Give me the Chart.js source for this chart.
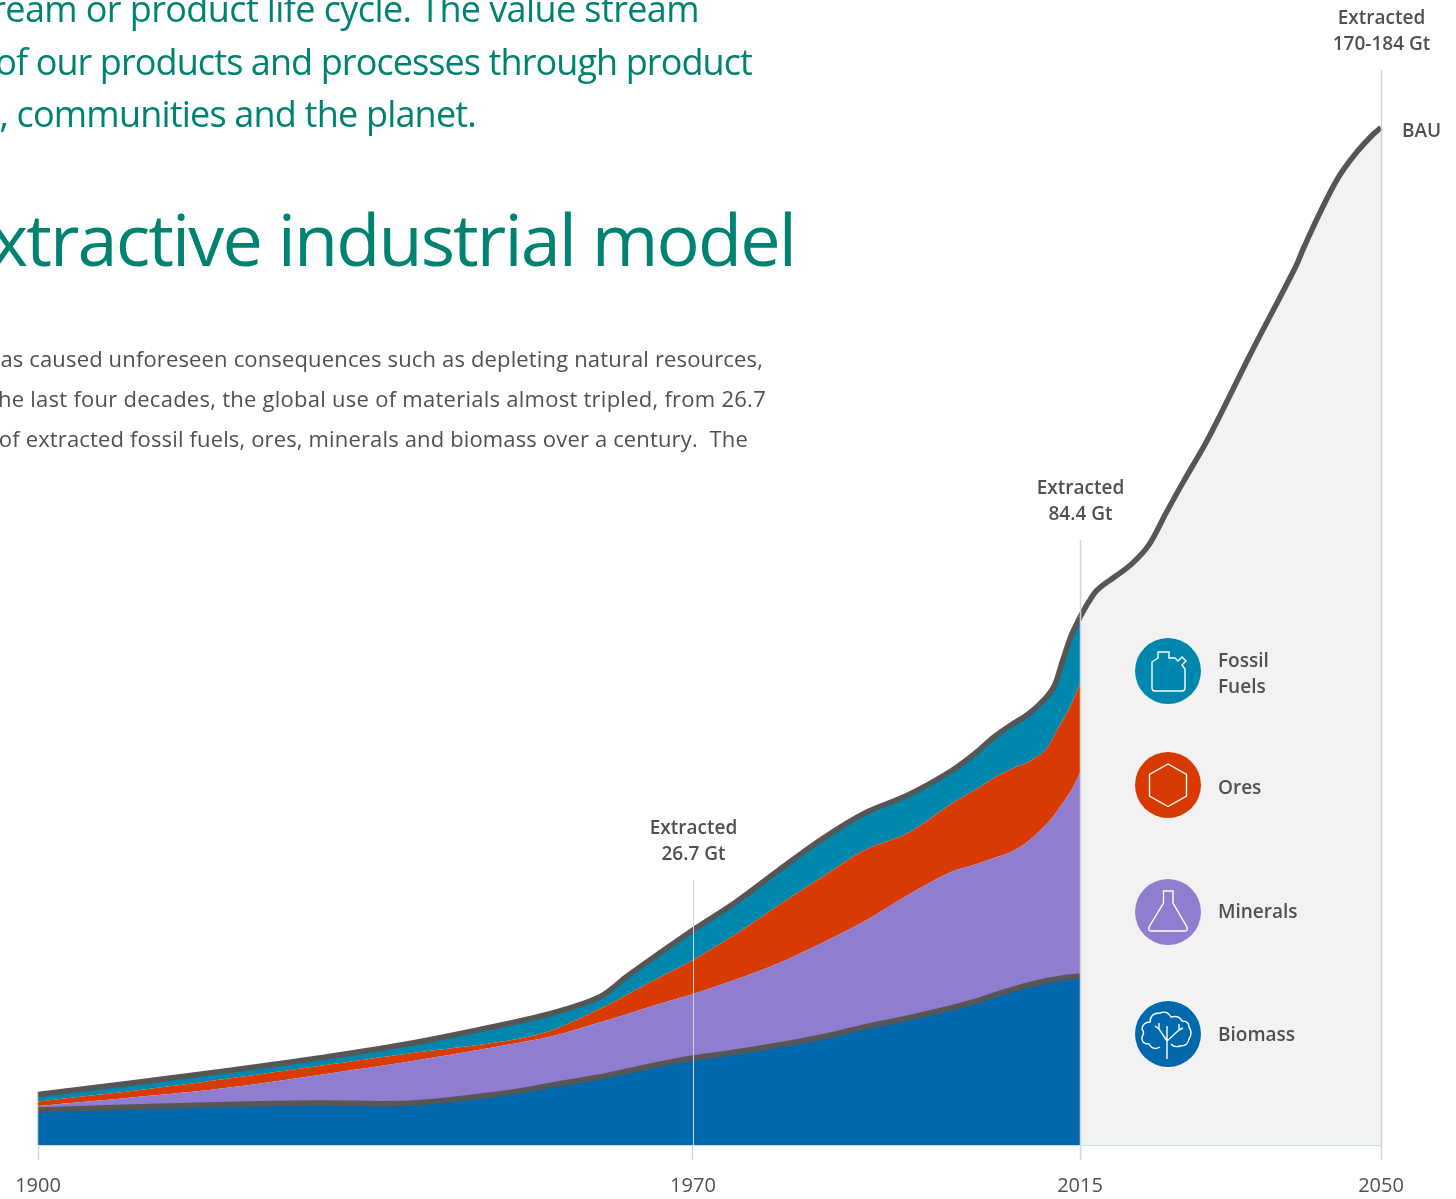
<!DOCTYPE html>
<html>
<head>
<meta charset="utf-8">
<title>Extractive industrial model</title>
<script src="https://cdn.jsdelivr.net/npm/chart.js@4"></script>
<style>
    html, body { margin: 0; padding: 0; background: #fff; }
    #page { position: relative; width: 1456px; height: 1199px; overflow: hidden; font-family: "Open Sans", sans-serif; }
    #page canvas { position: absolute; left: 0; top: 0; }
    .copy { position: absolute; white-space: pre; line-height: 1; text-align: right; }
    .intro { color: #008272; font-size: 36px; letter-spacing: -0.9px; }
    .head { color: #008272; font-size: 72px; letter-spacing: -1.9px; }
    .body { color: #505050; font-size: 22px; letter-spacing: 0.15px; }
</style>
</head>
<body>
<div id="page">
    <canvas id="flowChart" width="1456" height="1199"></canvas>
    <div class="copy intro" style="right:757px;top:-9px;letter-spacing:-0.6px">ream or product life cycle. The value stream</div>
    <div class="copy intro" style="right:704px;top:44px">of our products and processes through product</div>
    <div class="copy intro" style="right:980px;top:96px;letter-spacing:-0.8px">, communities and the planet.</div>
    <div class="copy head" style="right:661px;top:202px">xtractive industrial model</div>
    <div class="copy body" style="right:693px;top:347px">as caused unforeseen consequences such as depleting natural resources,</div>
    <div class="copy body" style="right:690px;top:387px;letter-spacing:0.26px">he last four decades, the global use of materials almost tripled, from 26.7</div>
    <div class="copy body" style="right:708px;top:427px">of extracted fossil fuels, ores, minerals and biomass over a century.  The</div>
</div>
<script>
// axis
const axisYears = [1900, 1970, 2015, 2050];
const axisStops = [0, 0.4877, 0.7759, 1];

// history, Gt per layer
const years = [1900, 1910, 1920, 1930, 1940, 1950, 1955, 1960, 1963, 1966, 1970, 1975, 1980, 1985, 1990, 1995, 2000, 2003, 2005, 2007, 2009, 2011, 2012, 2013, 2014, 2015];
const biomass = [5.6, 6.08, 6.48, 6.72, 6.72, 8.32, 9.6, 10.88, 11.84, 12.8, 13.92, 14.88, 16, 17.28, 18.88, 20.32, 21.92, 23.04, 24, 24.8, 25.6, 26.24, 26.48, 26.72, 26.88, 27.04];
const minerals = [0.64, 1.52, 2.64, 4.48, 6.72, 7.68, 7.84, 8.72, 9.12, 9.6, 10.24, 11.6, 13.12, 15.04, 16.96, 19.68, 21.76, 21.92, 21.92, 22.08, 23.04, 24.96, 26.32, 28, 29.92, 32.48];
const ores = [0.72, 1.04, 1.44, 1.44, 1.28, 0.64, 0.96, 2.16, 3.12, 4.08, 5.44, 7.28, 9.28, 10.56, 11.36, 9.92, 10.88, 12, 12.8, 13.28, 12.64, 12, 12.8, 13.28, 13.76, 14.4];
const fossil = [1.12, 1.28, 1.28, 1.28, 1.6, 2.72, 2.72, 1.92, 2.96, 3.76, 4.8, 5.12, 5.6, 6.08, 5.92, 6.08, 5.28, 5.92, 6.56, 7.04, 7.68, 8.32, 7.84, 9.6, 11.04, 10.56];

// business as usual
const bauYears = [2015, 2016, 2017, 2019, 2021, 2023, 2025, 2027, 2030, 2035, 2040, 2041, 2043, 2045, 2047, 2049, 2050];
const bauValues = [84.48, 86.88, 88.8, 90.88, 92.96, 96, 101.12, 106.08, 113.28, 127.04, 140.32, 143.52, 149.44, 154.72, 158.56, 161.6, 162.8];

// callouts above the year lines
const calloutYears = [1970, 2015, 2050];
const calloutTops = [42.4, 96.8, 172];
const calloutLabels = ['26.7 Gt', '84.4 Gt', '170-184 Gt'];
const startLineTop = 8.4;

const LINE_COLOR = '#565656';
const TEXT_COLOR = '#505050';
const BIOMASS_COLOR = '#0068ad';
const MINERALS_COLOR = '#917dcf';
const ORES_COLOR = '#d83b01';
const FOSSIL_COLOR = '#0087ad';

const legendItems = [
    { lines: ['Fossil', 'Fuels'], color: FOSSIL_COLOR, cy: 671, textY: [662, 688], icon: 'M-16 -9 L-10 -13 L-10 -19 L1 -19 L1 -13 L7 -13 L10 -10 L14 -14 L18 -10 L14 -6 L17 -2 L17 17 Q17 20 14 20 L-13 20 Q-16 20 -16 17 Z' },
    { lines: ['Ores'], color: ORES_COLOR, cy: 785, textY: [789], icon: 'M0 -21 L18.5 -10.5 L18.5 11 L0 21.5 L-18.5 11 L-18.5 -10.5 Z' },
    { lines: ['Minerals'], color: MINERALS_COLOR, cy: 912, textY: [913], icon: 'M-4.5 -21 L5 -21 L5 -9 L19 15 Q20 19 17 19 L-17 19 Q-20 19 -19 15 L-4.5 -9 Z' },
    { lines: ['Biomass'], color: BIOMASS_COLOR, cy: 1034, textY: [1036], icon: 'M-1 25 L-1 -1 M-1 7 L-9 -5 L-9 -11 M-9 -5 L-13 -8 M-1 7 L11 -4 L11 -10 M11 -4 L15 -6 M-1 1 L-1 -8 M-8 13 Q-15 17 -19 10 Q-27 10 -26 3 Q-23 -1 -26 -5 Q-25 -12 -18 -12 Q-18 -21 -8 -21 Q-1 -24 3 -17 Q11 -19 14 -13 Q21 -13 21 -7 Q25 -1 21 5 Q20 12 12 12 Q6 14 3 10' }
];

// year axis is not even in the source: 1900-1970 is wider than the later stretches
class YearScale extends Chart.LinearScale {
    static id = 'year';
    static defaults = Chart.LinearScale.defaults;
    getPixelForValue(value) {
        let i = 0;
        while (i < axisYears.length - 2 && value > axisYears[i + 1]) i++;
        const t = (value - axisYears[i]) / (axisYears[i + 1] - axisYears[i]);
        const stop = axisStops[i] + t * (axisStops[i + 1] - axisStops[i]);
        return this.left + stop * this.width;
    }
}
Chart.register(YearScale);

function toPoints(xs, ys) {
    return xs.map((x, i) => ({ x: x, y: ys[i] }));
}

const yearLines = {
    id: 'yearLines',
    afterDatasetsDraw(chart) {
        const ctx = chart.ctx;
        const x = chart.scales.x;
        const y = chart.scales.y;
        ctx.save();
        ctx.textAlign = 'center';
        ctx.textBaseline = 'middle';
        ctx.font = '600 19px "Open Sans"';
        ctx.strokeStyle = '#d4d4d4';
        ctx.lineWidth = 1.5;
        ctx.beginPath();
        ctx.moveTo(x.left - 0.5, y.getPixelForValue(startLineTop));
        ctx.lineTo(x.left - 0.5, y.bottom);
        ctx.stroke();
        calloutYears.forEach((year, i) => {
            const px = Math.round(x.getPixelForValue(year)) + 0.5;
            const top = y.getPixelForValue(calloutTops[i]);
            ctx.lineWidth = i === 0 ? 1 : 1.5;
            ctx.beginPath();
            ctx.moveTo(px, top);
            ctx.lineTo(px, y.bottom);
            ctx.stroke();
            ctx.fillStyle = TEXT_COLOR;
            ctx.fillText('Extracted', px, top - 51);
            ctx.fillText(calloutLabels[i], px, top - 25);
        });
        ctx.textAlign = 'left';
        ctx.fillText('BAU', 1402, 132);
        ctx.restore();
    }
};

const iconLegend = {
    id: 'iconLegend',
    afterDraw(chart) {
        const ctx = chart.ctx;
        ctx.save();
        legendItems.forEach(item => {
            ctx.fillStyle = item.color;
            ctx.beginPath();
            ctx.arc(1168, item.cy, 33, 0, Math.PI * 2);
            ctx.fill();
            ctx.save();
            ctx.translate(1168, item.cy);
            ctx.strokeStyle = '#fff';
            ctx.lineWidth = 1.4;
            ctx.stroke(new Path2D(item.icon));
            ctx.restore();
            ctx.fillStyle = TEXT_COLOR;
            ctx.font = '600 19px "Open Sans"';
            ctx.textBaseline = 'middle';
            item.lines.forEach((line, i) => ctx.fillText(line, 1218, item.textY[i]));
        });
        ctx.restore();
    }
};

function layer(label, values, color, fill, line) {
    return {
        label: label,
        data: toPoints(years, values),
        backgroundColor: color,
        borderColor: line ? LINE_COLOR : color,
        borderWidth: line ? 5.5 : 0,
        fill: fill,
        stack: 'history',
        pointRadius: 0,
        tension: 0.35,
        clip: false
    };
}

const flowChart = new Chart(document.getElementById('flowChart'), {
    type: 'line',
    data: {
        datasets: [
            layer('Biomass', biomass, BIOMASS_COLOR, 'origin', true),
            layer('Minerals', minerals, MINERALS_COLOR, '-1', false),
            layer('Ores', ores, ORES_COLOR, '-1', false),
            layer('Fossil Fuels', fossil, FOSSIL_COLOR, '-1', true),
            {
                label: 'BAU',
                data: toPoints(bauYears, bauValues),
                backgroundColor: '#f2f2f2',
                borderColor: LINE_COLOR,
                borderWidth: 5.5,
                fill: 'origin',
                stack: 'bau',
                pointRadius: 0,
                tension: 0.35,
                clip: false
            }
        ]
    },
    options: {
        responsive: false,
        animation: false,
        events: [],
        layout: { padding: { left: 38, right: 75, top: 70, bottom: 0 } },
        plugins: {
            legend: { display: false },
            title: { display: false },
            tooltip: { enabled: false }
        },
        scales: {
            x: {
                type: 'year',
                min: 1900,
                max: 2050,
                afterBuildTicks: scale => { scale.ticks = axisYears.map(v => ({ value: v })); },
                afterFit: scale => { scale.height = 54; },
                border: { color: '#cfdfe6', width: 1 },
                grid: { drawOnChartArea: false, tickLength: 15, tickColor: '#d4d4d4', tickWidth: 1.5 },
                ticks: {
                    autoSkip: false,
                    maxRotation: 0,
                    padding: 14,
                    color: TEXT_COLOR,
                    font: { family: '"Open Sans"', size: 20 },
                    callback: value => String(value)
                }
            },
            y: { display: false, stacked: true, min: 0, max: 172 }
        }
    },
    plugins: [yearLines, iconLegend]
});
</script>
</body>
</html>
